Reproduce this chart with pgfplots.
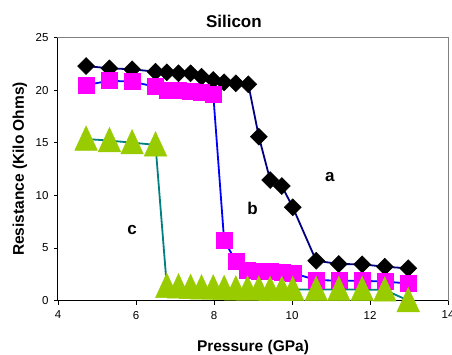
\documentclass[border=0pt]{standalone}
\usepackage{pgfplots}
\pgfplotsset{compat=1.18}
\usepackage{fontspec}
\setmainfont{Liberation Sans}
\definecolor{aline}{RGB}{0,0,128}
\definecolor{bmark}{RGB}{255,0,255}
\definecolor{bline}{RGB}{0,0,255}
\definecolor{cmark}{RGB}{153,204,0}
\definecolor{cline}{RGB}{0,128,128}
\definecolor{framegray}{RGB}{128,128,128}

\pgfplotstableread{
x y
4.72 22.29
5.32 22.07
5.90 21.98
6.50 21.75
6.79 21.69
7.09 21.60
7.40 21.60
7.68 21.27
7.98 20.96
8.26 20.74
8.56 20.65
8.88 20.55
9.15 15.57
9.44 11.45
9.74 10.88
10.02 8.86
10.62 3.78
11.20 3.47
11.80 3.44
12.38 3.21
12.98 3.06
}\seriesa

\pgfplotstableread{
x y
4.72 20.48
5.32 20.89
5.90 20.80
6.50 20.32
6.79 20.00
7.09 19.96
7.40 19.91
7.68 19.82
7.98 19.63
8.26 5.70
8.56 3.75
8.86 2.90
9.15 2.80
9.44 2.74
9.74 2.71
10.02 2.61
10.62 1.95
11.20 1.88
11.80 1.88
12.38 1.79
12.98 1.63
}\seriesb

\pgfplotstableread{
x y
4.72 15.35
5.32 15.20
5.90 15.00
6.50 14.80
6.79 1.35
7.09 1.30
7.40 1.25
7.68 1.20
7.98 1.20
8.26 1.15
8.56 1.10
8.86 1.10
9.15 1.10
9.44 1.05
9.74 1.05
10.02 1.05
10.62 1.05
11.20 1.05
11.80 1.05
12.38 1.00
12.98 0.00
}\seriesc

\begin{document}
\begin{tikzpicture}
\begin{axis}[
  at={(0,0)}, anchor=south west,
  scale only axis, width=390pt, height=263pt,
  xmin=4, xmax=14, ymin=0, ymax=25,
  xtick={4,6,...,14}, ytick={0,5,...,25},
  tick align=outside, xtick pos=bottom, ytick pos=left,
  major tick length=4pt,
  tick style={black, line width=0.8pt},
  axis line style={framegray, line width=1pt},
  clip=false,
  ticklabel style={font=\fontsize{11.5}{13}\selectfont},
  xticklabel style={yshift=-3pt},
  yticklabel style={xshift=-2pt},
  /pgf/number format/assume math mode=true,
  xlabel={Pressure (GPa)},
  ylabel={Resistance (Kilo Ohms)},
  label style={font=\fontsize{15.5}{18}\selectfont\bfseries},
  xlabel style={at={(axis description cs:0.5,-0.1947)}, anchor=base},
  ylabel style={at={(axis description cs:-0.0872,0.5)}, anchor=base},
]
\draw[black, line width=1pt] (rel axis cs:0,0) -- (rel axis cs:1,0);
\draw[black, line width=1pt] (rel axis cs:0,0) -- (rel axis cs:0,1);
\addplot[aline, line width=1.8pt, mark=square*, mark size=6pt,
  mark options={black, fill=black, rotate=45, line width=0.5pt}] table {\seriesa};
\addplot[bline, line width=1.8pt, mark=square*, mark size=8pt,
  mark options={bmark, fill=bmark, line width=0.5pt}] table {\seriesb};
\addplot[cline, line width=1.8pt, mark=triangle*, mark size=13pt,
  mark options={cmark, fill=cmark, yscale=1.25, yshift=-2.5pt, line width=0.5pt}] table {\seriesc};
\node[font=\fontsize{17}{20}\selectfont\bfseries] at (axis cs:10.97,11.74) {a};
\node[font=\fontsize{17}{20}\selectfont\bfseries] at (axis cs:8.99,8.76) {b};
\node[font=\fontsize{17}{20}\selectfont\bfseries] at (axis cs:5.90,6.70) {c};
\node[font=\fontsize{17}{20}\selectfont\bfseries, anchor=base, fill=white, inner sep=1pt] at (axis cs:8.51,25.97) {Silicon};
\end{axis}
\pgfresetboundingbox
\path[use as bounding box] (-58pt,-53.5pt) rectangle (394pt,300.5pt);
\end{tikzpicture}
\end{document}
